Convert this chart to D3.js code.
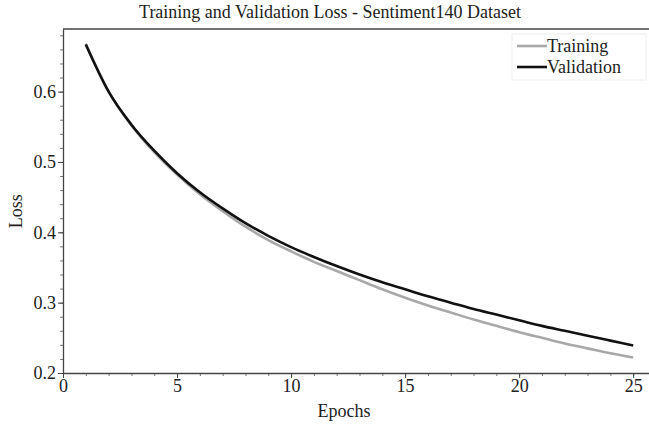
<!DOCTYPE html>
<html>
<head>
<meta charset="utf-8">
<script src="https://cdn.jsdelivr.net/npm/d3@7"></script>
<style>
  body { margin: 0; background: #fff; }
  text { font-family: "Liberation Serif", "DejaVu Serif", serif; fill: #222; }
</style>
</head>
<body>
<div id="chart"></div>
<script>
const epochs = d3.range(1, 26);
const trainingLoss = [0.668, 0.600, 0.552, 0.514, 0.482, 0.454, 0.430, 0.408, 0.389, 0.373,
                      0.358, 0.345, 0.332, 0.319, 0.307, 0.296, 0.286, 0.276, 0.267, 0.258,
                      0.250, 0.242, 0.235, 0.228, 0.222];
const validationLoss = [0.667, 0.600, 0.553, 0.516, 0.484, 0.457, 0.434, 0.413, 0.395, 0.379,
                        0.365, 0.352, 0.340, 0.329, 0.319, 0.309, 0.300, 0.291, 0.283, 0.275,
                        0.267, 0.260, 0.253, 0.246, 0.239];
const xTicks = [0, 5, 10, 15, 20, 25];
const yTicks = [0.2, 0.3, 0.4, 0.5, 0.6];
const seriesNames = ["Training", "Validation"];
const seriesColors = ["#a8a8a8", "#111111"];

const width = 649, height = 425;
const margin = { top: 29, right: -7, bottom: 52, left: 63 };

const svg = d3.select("#chart").append("svg")
    .attr("width", width)
    .attr("height", height);

const x = d3.scaleLinear().domain([0, 26]).range([margin.left, width - margin.right]);
const y = d3.scaleLinear().domain([0.2, 0.689]).range([height - margin.bottom, margin.top]);

// title
svg.append("text")
    .attr("x", 330).attr("y", 18)
    .attr("text-anchor", "middle")
    .style("font-size", "18px")
    .text("Training and Validation Loss - Sentiment140 Dataset");

// minor ticks
svg.append("g")
    .attr("transform", `translate(0,${y(0.2)})`)
    .call(d3.axisBottom(x).tickValues(d3.range(0, 26)).tickSize(3).tickFormat(""))
    .call(g => g.select(".domain").remove())
    .call(g => g.selectAll("line").attr("stroke", "#777"));
svg.append("g")
    .attr("transform", `translate(${x(0)},0)`)
    .call(d3.axisLeft(y).tickValues(d3.range(0.2, 0.69, 0.02)).tickSize(3).tickFormat(""))
    .call(g => g.select(".domain").remove())
    .call(g => g.selectAll("line").attr("stroke", "#777"));

// main axes
const xAxis = svg.append("g")
    .attr("transform", `translate(0,${y(0.2)})`)
    .call(d3.axisBottom(x).tickValues(xTicks).tickSize(5).tickSizeOuter(0).tickPadding(1));
const yAxis = svg.append("g")
    .attr("transform", `translate(${x(0)},0)`)
    .call(d3.axisLeft(y).tickValues(yTicks).tickSize(5).tickSizeOuter(0).tickPadding(2).tickFormat(d3.format(".1f")));

[xAxis, yAxis].forEach(g => {
    g.selectAll(".domain").attr("stroke", "#444").attr("stroke-width", 1.3);
    g.selectAll(".tick line").attr("stroke", "#444");
    g.selectAll(".tick text")
        .style("font-family", "Liberation Serif, serif")
        .style("font-size", "18px")
        .attr("fill", "#222");
});

// top frame line
svg.append("line")
    .attr("x1", x(0)).attr("x2", width)
    .attr("y1", y.range()[1]).attr("y2", y.range()[1])
    .attr("stroke", "#444").attr("stroke-width", 1.3);

// axis labels
svg.append("text")
    .attr("x", 344).attr("y", 417)
    .attr("text-anchor", "middle")
    .style("font-size", "18px")
    .text("Epochs");
svg.append("text")
    .attr("transform", `translate(22,${y(0.43)}) rotate(-90)`)
    .attr("text-anchor", "middle")
    .style("font-size", "18px")
    .text("Loss");

// lines
const seriesData = [trainingLoss, validationLoss];
const line = d3.line()
    .x((d, i) => x(epochs[i]))
    .y(d => y(d))
    .curve(d3.curveMonotoneX);

seriesData.forEach((s, k) => {
    svg.append("path")
        .datum(s)
        .attr("fill", "none")
        .attr("stroke", seriesColors[k])
        .attr("stroke-width", 2.6)
        .attr("d", line);
});

// legend
const legend = svg.append("g").attr("transform", "translate(512,34)");
legend.append("rect")
    .attr("width", 134).attr("height", 46)
    .attr("fill", "#fff").attr("stroke", "#eee");
seriesNames.forEach((name, k) => {
    const ly = 12 + k * 21;
    legend.append("line")
        .attr("x1", 5).attr("x2", 35)
        .attr("y1", ly).attr("y2", ly)
        .attr("stroke", seriesColors[k]).attr("stroke-width", 2.6);
    legend.append("text")
        .attr("x", 35).attr("y", ly + 6)
        .style("font-size", "18px")
        .text(name);
});
</script>
</body>
</html>
